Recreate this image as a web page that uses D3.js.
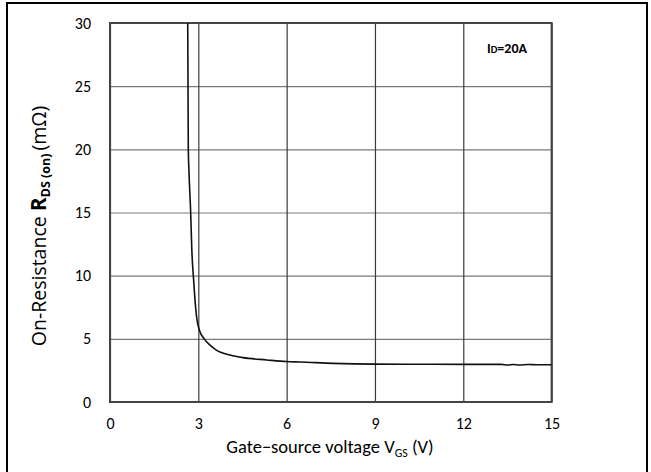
<!DOCTYPE html>
<html>
<head>
<meta charset="utf-8">
<script src="https://cdn.jsdelivr.net/npm/d3@7"></script>
<style>
  html, body { margin: 0; padding: 0; background: #fff; }
  svg { display: block; }
  text { font-family: Calibri, Carlito, Lato, "Open Sans", sans-serif; fill: #000; }
</style>
</head>
<body>
<svg id="chart" width="651" height="472"></svg>
<script>
// Gate-source voltage (V) and on-resistance (mΩ) samples at ID = 20 A
const vgs = [2.64, 2.65, 2.66, 2.68, 2.74, 2.78, 2.83, 2.88, 2.94, 3.05, 3.2, 3.4, 3.6, 4.08, 4.52,
             5.32, 6.0, 6.45, 7.58, 9.0, 10.5, 12.0, 13.3, 13.5, 13.7, 13.9, 14.2, 14.5, 15.0];
const rdson = [30, 25, 20, 18.4, 15, 12, 10, 8.3, 6.75, 5.6, 5.0, 4.5, 4.12, 3.72, 3.51,
               3.33, 3.2, 3.17, 3.06, 3.0, 2.99, 2.98, 2.98, 2.93, 2.97, 2.93, 2.97, 2.95, 2.95];
const xTicks = [0, 3, 6, 9, 12, 15];
const yTicks = [0, 5, 10, 15, 20, 25, 30];

const svg = d3.select("#chart");
const plot = { left: 110, right: 551.6, top: 23, bottom: 402 };
const font = "Calibri, Carlito, Lato, 'Open Sans', sans-serif";

const x = d3.scaleLinear().domain([0, 15]).range([plot.left, plot.right]);
const y = d3.scaleLinear().domain([0, 30]).range([plot.bottom, plot.top]);

// outer frame
svg.append("rect")
  .attr("x", 7).attr("y", 3).attr("width", 640).attr("height", 480)
  .attr("fill", "none").attr("stroke", "#000").attr("stroke-width", 2);

// horizontal grid
svg.append("g")
  .attr("transform", `translate(${plot.left},0)`)
  .call(d3.axisLeft(y).tickValues(yTicks).tickSize(-(plot.right - plot.left)).tickFormat(""))
  .call(g => g.select(".domain").remove())
  .call(g => g.selectAll("line").attr("stroke", "#7a7a7a").attr("stroke-width", 1.2));

// vertical grid
svg.append("g")
  .attr("transform", `translate(0,${plot.bottom})`)
  .call(d3.axisBottom(x).tickValues(xTicks).tickSize(-(plot.bottom - plot.top)).tickFormat(""))
  .call(g => g.select(".domain").remove())
  .call(g => g.selectAll("line").attr("stroke", "#3a3a3a").attr("stroke-width", 1.2));

// plot frame
svg.append("rect")
  .attr("x", plot.left).attr("y", plot.top)
  .attr("width", plot.right - plot.left).attr("height", plot.bottom - plot.top)
  .attr("fill", "none").attr("stroke", "#444").attr("stroke-width", 2);

// tick labels
svg.append("g")
  .attr("transform", `translate(${plot.left},0)`)
  .call(d3.axisLeft(y).tickValues(yTicks).tickSize(0).tickPadding(19))
  .call(g => g.select(".domain").remove())
  .call(g => g.selectAll("text").style("font-size", "16px").style("font-family", font));

svg.append("g")
  .attr("transform", `translate(0,${plot.bottom})`)
  .call(d3.axisBottom(x).tickValues(xTicks).tickSize(0).tickPadding(16))
  .call(g => g.select(".domain").remove())
  .call(g => g.selectAll("text").style("font-size", "16px").style("font-family", font));

// curve
const pts = vgs.map((v, i) => [v, rdson[i]]);
svg.append("path")
  .datum(pts)
  .attr("fill", "none")
  .attr("stroke", "#111")
  .attr("stroke-width", 1.6)
  .attr("d", d3.line().x(d => x(d[0])).y(d => y(d[1])).curve(d3.curveMonotoneX));

// condition label
const cond = svg.append("text")
  .attr("x", 507).attr("y", 53)
  .attr("text-anchor", "middle")
  .style("font-size", "14px").style("font-weight", "bold");
cond.append("tspan").text("I");
cond.append("tspan").style("font-size", "10.5px").text("D");
cond.append("tspan").text("=20A");

// x axis title
const xt = svg.append("text")
  .attr("x", 330).attr("y", 453)
  .attr("text-anchor", "middle")
  .style("font-size", "18.5px");
xt.append("tspan").text("Gate\u2212source voltage V");
xt.append("tspan").attr("dy", 4).style("font-size", "12px").text("GS");
xt.append("tspan").attr("dy", -4).text(" (V)");

// y axis title
const yt = svg.append("text")
  .attr("transform", "translate(46,226) rotate(-90)")
  .attr("text-anchor", "middle")
  .style("font-family", "'Open Sans', sans-serif")
  .style("font-size", "19.5px");
yt.append("tspan").text("On-Resistance ");
yt.append("tspan").style("font-weight", "bold").style("font-size", "21px").text(" R");
yt.append("tspan").attr("dy", 4).style("font-weight", "bold").style("font-size", "12.5px").text("DS (on)");
yt.append("tspan").attr("dy", -4).attr("dx", 3).text("(m\u03a9)");
</script>
</body>
</html>
